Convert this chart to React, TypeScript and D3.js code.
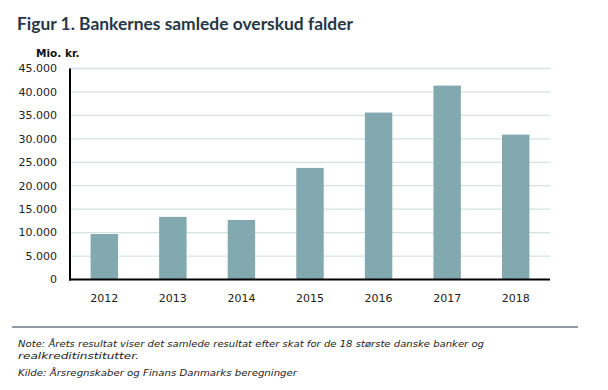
import * as React from 'react';
import * as d3 from 'd3';

const years = ['2012', '2013', '2014', '2015', '2016', '2017', '2018'];
const profits = [9700, 13350, 12700, 23800, 35600, 41350, 30900];
const yTicks = [0, 5000, 10000, 15000, 20000, 25000, 30000, 35000, 40000, 45000];

const title = 'Figur 1. Bankernes samlede overskud falder';
const unitLabel = 'Mio. kr.';
const noteLines = [
  'Note: Årets resultat viser det samlede resultat efter skat for de 18 største danske banker og',
  'realkreditinstitutter.',
];
const sourceLine = 'Kilde: Årsregnskaber og Finans Danmarks beregninger';

const W = 608;
const H = 390;
const left = 70;
const right = 550;
const top = 68.5;
const bottom = 279.5;

const fmt = (v: number) => d3.format(',')(v).replace(/,/g, '.');

const App = () => {
  const x = d3.scaleBand<string>().domain(years).range([left, right]).paddingInner(0.6).paddingOuter(0.3);
  const y = d3.scaleLinear().domain([0, 45000]).range([bottom, top]);

  return (
    <svg
      width={W}
      height={H}
      style={{ position: 'absolute', left: 0, top: 0, background: '#fff' }}
      fontFamily="'DejaVu Sans', sans-serif"
    >
      <text
        x={17}
        y={29.5}
        fontSize={16.5}
        fontWeight="bold"
        fontFamily="Lato, sans-serif"
        fill="#253746"
        textLength={336}
        lengthAdjust="spacingAndGlyphs"
      >
        {title}
      </text>
      <text x={36} y={57} fontSize={10.5} fontWeight="bold" fill="#111">
        {unitLabel}
      </text>

      {/* gridlines */}
      {yTicks
        .filter((t) => t > 0)
        .map((t) => (
          <line key={t} x1={left} x2={right} y1={y(t)} y2={y(t)} stroke="#d3e3e3" strokeWidth={1.3} />
        ))}

      {/* y tick labels */}
      {yTicks.map((t) => (
        <text key={t} x={57} y={y(t)} dy="0.35em" textAnchor="end" fontSize={11} fill="#222">
          {fmt(t)}
        </text>
      ))}

      {/* bars */}
      {years.map((yr, i) => (
        <rect
          key={yr}
          x={x(yr)}
          y={y(profits[i])}
          width={x.bandwidth()}
          height={bottom - y(profits[i])}
          fill="#81a9af"
        />
      ))}

      {/* axes */}
      <line x1={left} x2={left} y1={top} y2={bottom + 1} stroke="#000" strokeWidth={2} />
      <line x1={left - 1} x2={right} y1={bottom} y2={bottom} stroke="#000" strokeWidth={2} />

      {/* x labels */}
      {years.map((yr) => (
        <text key={yr} x={(x(yr) as number) + x.bandwidth() / 2} y={302} textAnchor="middle" fontSize={11} fill="#222">
          {yr}
        </text>
      ))}

      <line x1={12} x2={578} y1={327} y2={327} stroke="#253746" strokeWidth={1} />
      <text x={18} y={347} fontSize={9.5} fontStyle="italic" fill="#222" textLength={466} lengthAdjust="spacingAndGlyphs">
        {noteLines[0]}
      </text>
      <text x={18} y={359} fontSize={9.5} fontStyle="italic" fill="#222" textLength={121} lengthAdjust="spacingAndGlyphs">
        {noteLines[1]}
      </text>
      <text x={18} y={376} fontSize={9.5} fontStyle="italic" fill="#222" textLength={279} lengthAdjust="spacingAndGlyphs">
        {sourceLine}
      </text>
    </svg>
  );
};

export default App;
